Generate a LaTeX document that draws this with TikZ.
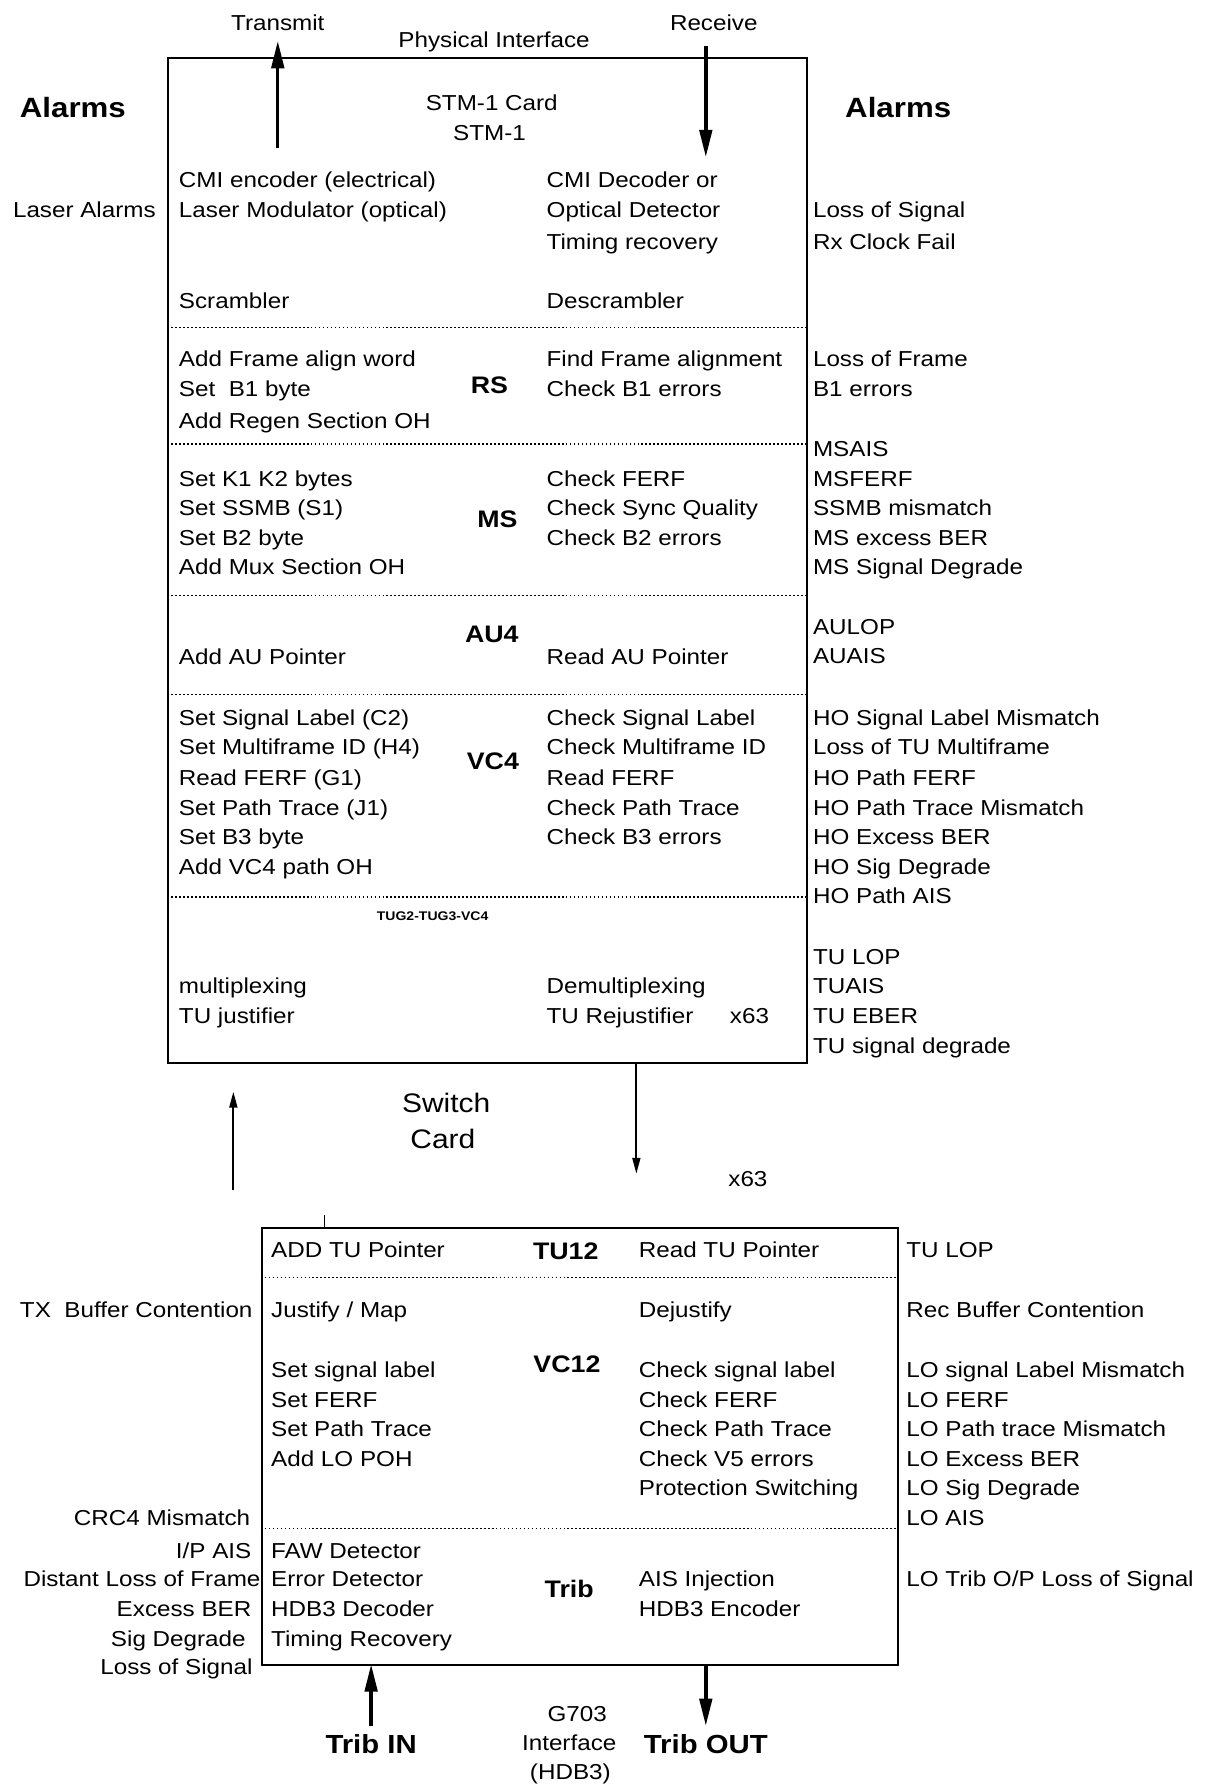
\documentclass[tikz,border=0pt]{standalone}
\usepackage{fontspec}
\setmainfont[FakeStretch=1.12]{Liberation Sans}
\usetikzlibrary{arrows.meta}
\tikzset{
  lt/.style={inner sep=0pt, anchor=base west, font=\fontsize{19}{22}\selectfont},
  rt/.style={inner sep=0pt, anchor=base east, font=\fontsize{19}{22}\selectfont},
  ct/.style={inner sep=0pt, anchor=base, font=\fontsize{19}{22}\selectfont},
  lct/.style={inner sep=0pt, anchor=base, font=\fontsize{23.5}{26}\selectfont},
  blab/.style={inner sep=0pt, anchor=base, font=\fontsize{21}{24}\selectfont\bfseries},
  biglab/.style={inner sep=0pt, anchor=base, font=\fontsize{23}{26}\selectfont\bfseries},
  alab/.style={inner sep=0pt, anchor=base, font=\fontsize{24.5}{28}\selectfont\bfseries},
  tiny/.style={inner sep=0pt, anchor=base, font=\fontsize{11}{13}\selectfont\bfseries},
  boxline/.style={line width=1.7pt},
  sep/.style={line width=1pt, dash pattern=on 1.5pt off 2pt},
  bigarrow/.style={line width=3pt, -{Triangle[length=24pt,width=11pt]}},
  smallarrow/.style={line width=1.7pt, -{Triangle[length=14pt,width=7pt]}},
}
\begin{document}
\begin{tikzpicture}[x=1pt,y=-1pt]
\useasboundingbox (0,0) rectangle (1059,1568);
% ---------- top card ----------
\node[boxline, draw, inner sep=0pt, minimum width=561pt, minimum height=883pt, anchor=north west] (stm) at (147,50) {};
\foreach \yy in {288,390,523,610,788}{
  \draw[sep] (147,\yy) -- (708,\yy);
}
\node[ct] (transmit) at (244,27) {Transmit};
\node[ct] (phys) at (434,42) {Physical Interface};
\node[ct] (receive) at (627,27) {Receive};
\coordinate (txlo) at (244,130);
\coordinate (txhi) at (244,36);
\coordinate (rxhi) at (620,40);
\coordinate (rxlo) at (620,138);
\draw[bigarrow] (txlo) -- (txhi);
\draw[bigarrow] (rxhi) -- (rxlo);
\node[alab] (alarmL) at (64,103) {Alarms};
\node[alab] (alarmR) at (789,103) {Alarms};
\node[ct] (card1) at (432,97) {STM-1 Card};
\node[ct] (card2) at (430,123) {STM-1};
% left column
\node[lt] (a1) at (157,165) {CMI encoder (electrical)};
\node[lt] (a2) at (157,191) {Laser Modulator (optical)};
\node[lt] (a3) at (157,271) {Scrambler};
\node[lt] (a4) at (157,322) {Add Frame align word};
\node[lt] (a5) at (157,348) {Set\ \ B1 byte};
\node[lt] (a6) at (157,376) {Add Regen Section OH};
\node[lt] (a7) at (157,427) {Set K1 K2 bytes};
\node[lt] (a8) at (157,453) {Set SSMB (S1)};
\node[lt] (a9) at (157,479) {Set B2 byte};
\node[lt] (a10) at (157,505) {Add Mux Section OH};
\node[lt] (a11) at (157,584) {Add AU Pointer};
\node[lt] (a12) at (157,637) {Set Signal Label (C2)};
\node[lt] (a13) at (157,663) {Set Multiframe ID (H4)};
\node[lt] (a14) at (157,690) {Read FERF (G1)};
\node[lt] (a15) at (157,716) {Set Path Trace (J1)};
\node[lt] (a16) at (157,742) {Set B3 byte};
\node[lt] (a17) at (157,768) {Add VC4 path OH};
\node[lt] (a18) at (157,873) {multiplexing};
\node[lt] (a19) at (157,899) {TU justifier};
% right column
\node[lt] (b1) at (480,165) {CMI Decoder or};
\node[lt] (b2) at (480,191) {Optical Detector};
\node[lt] (b3) at (480,219) {Timing recovery};
\node[lt] (b4) at (480,271) {Descrambler};
\node[lt] (b5) at (480,322) {Find Frame alignment};
\node[lt] (b6) at (480,348) {Check B1 errors};
\node[lt] (b7) at (480,427) {Check FERF};
\node[lt] (b8) at (480,453) {Check Sync Quality};
\node[lt] (b9) at (480,479) {Check B2 errors};
\node[lt] (b10) at (480,584) {Read AU Pointer};
\node[lt] (b11) at (480,637) {Check Signal Label};
\node[lt] (b12) at (480,663) {Check Multiframe ID};
\node[lt] (b13) at (480,690) {Read FERF};
\node[lt] (b14) at (480,716) {Check Path Trace};
\node[lt] (b15) at (480,742) {Check B3 errors};
\node[lt] (b16) at (480,873) {Demultiplexing};
\node[lt] (b17) at (480,899) {TU Rejustifier};
\node[lt] (b18) at (641,899) {x63};
% right alarms
\node[lt] (c1) at (714,191) {Loss of Signal};
\node[lt] (c2) at (714,219) {Rx Clock Fail};
\node[lt] (c3) at (714,322) {Loss of Frame};
\node[lt] (c4) at (714,348) {B1 errors};
\node[lt] (c5) at (714,401) {MSAIS};
\node[lt] (c6) at (714,427) {MSFERF};
\node[lt] (c7) at (714,453) {SSMB mismatch};
\node[lt] (c8) at (714,479) {MS excess BER};
\node[lt] (c9) at (714,505) {MS Signal Degrade};
\node[lt] (c10) at (714,557) {AULOP};
\node[lt] (c11) at (714,583) {AUAIS};
\node[lt] (c12) at (714,637) {HO Signal Label Mismatch};
\node[lt] (c13) at (714,663) {Loss of TU Multiframe};
\node[lt] (c14) at (714,690) {HO Path FERF};
\node[lt] (c15) at (714,716) {HO Path Trace Mismatch};
\node[lt] (c16) at (714,742) {HO Excess BER};
\node[lt] (c17) at (714,768) {HO Sig Degrade};
\node[lt] (c18) at (714,794) {HO Path AIS};
\node[lt] (c19) at (714,847) {TU LOP};
\node[lt] (c20) at (714,873) {TUAIS};
\node[lt] (c21) at (714,899) {TU EBER};
\node[lt] (c22) at (714,925) {TU signal degrade};
\node[rt] (d1) at (137,191) {Laser Alarms};
% block labels
\node[blab] (rs) at (430,346) {RS};
\node[blab] (ms) at (437,463) {MS};
\node[blab] (au4) at (432,564) {AU4};
\node[blab] (vc4) at (433,676) {VC4};
\node[tiny] (tug) at (380,809) {TUG2-TUG3-VC4};
% ---------- switch card ----------
\node[lct] (sw1) at (392,977) {Switch};
\node[lct] (sw2) at (389,1009) {Card};
\node[ct] (x63b) at (657,1042) {x63};
\coordinate (uplo) at (205,1045);
\coordinate (uphi) at (205,959);
\coordinate (dnhi) at (559,933);
\coordinate (dnlo) at (559,1031);
\draw[smallarrow] (uplo) -- (uphi);
\draw[smallarrow] (dnhi) -- (dnlo);
\coordinate (tickhi) at (285,1067);
\coordinate (ticklo) at (285,1078);
\draw[line width=1pt] (tickhi) -- (ticklo);
% ---------- lower card ----------
\node[boxline, draw, inner sep=0pt, minimum width=559pt, minimum height=384pt, anchor=north west] (trib) at (229,1078) {};
\foreach \yy in {1122,1343}{
  \draw[sep] (229,\yy) -- (788,\yy);
}
\node[lt] (e1) at (238,1105) {ADD TU Pointer};
\node[lt] (e2) at (238,1157) {Justify / Map};
\node[lt] (e3) at (238,1210) {Set signal label};
\node[lt] (e4) at (238,1236) {Set FERF};
\node[lt] (e5) at (238,1262) {Set Path Trace};
\node[lt] (e6) at (238,1288) {Add LO POH};
\node[lt] (e7) at (238,1369) {FAW Detector};
\node[lt] (e8) at (238,1394) {Error Detector};
\node[lt] (e9) at (238,1420) {HDB3 Decoder};
\node[lt] (e10) at (238,1446) {Timing Recovery};
\node[lt] (f1) at (561,1105) {Read TU Pointer};
\node[lt] (f2) at (561,1157) {Dejustify};
\node[lt] (f3) at (561,1210) {Check signal label};
\node[lt] (f4) at (561,1236) {Check FERF};
\node[lt] (f5) at (561,1262) {Check Path Trace};
\node[lt] (f6) at (561,1288) {Check V5 errors};
\node[lt] (f7) at (561,1314) {Protection Switching};
\node[lt] (f8) at (561,1394) {AIS Injection};
\node[lt] (f9) at (561,1420) {HDB3 Encoder};
\node[lt] (g1) at (796,1105) {TU LOP};
\node[lt] (g2) at (796,1157) {Rec Buffer Contention};
\node[lt] (g3) at (796,1210) {LO signal Label Mismatch};
\node[lt] (g4) at (796,1236) {LO FERF};
\node[lt] (g5) at (796,1262) {LO Path trace Mismatch};
\node[lt] (g6) at (796,1288) {LO Excess BER};
\node[lt] (g7) at (796,1314) {LO Sig Degrade};
\node[lt] (g8) at (796,1340) {LO AIS};
\node[lt] (g9) at (796,1394) {LO Trib O/P Loss of Signal};
\node[rt] (h1) at (222,1157) {TX\ \ Buffer Contention};
\node[rt] (h2) at (220,1340) {CRC4 Mismatch};
\node[rt] (h3) at (221,1369) {I/P AIS};
\node[rt] (h4) at (229,1394) {Distant Loss of Frame};
\node[rt] (h5) at (221,1420) {Excess BER};
\node[rt] (h6) at (216,1446) {Sig Degrade};
\node[rt] (h7) at (222,1471) {Loss of Signal};
\node[blab] (tu12) at (497,1106) {TU12};
\node[blab] (vc12) at (498,1206) {VC12};
\node[blab] (tribl) at (500,1403) {Trib};
% bottom interface
\coordinate (inlo) at (326,1516);
\coordinate (inhi) at (326,1462);
\coordinate (outhi) at (620,1462);
\coordinate (outlo) at (620,1516);
\draw[bigarrow] (inlo) -- (inhi);
\draw[bigarrow] (outhi) -- (outlo);
\node[biglab] (tribin) at (326,1540) {Trib IN};
\node[biglab] (tribout) at (620,1540) {Trib OUT};
\node[ct] (g703) at (507,1512) {G703};
\node[ct] (iface) at (500,1538) {Interface};
\node[ct] (hdb3) at (501,1563) {(HDB3)};
\end{tikzpicture}
\end{document}
